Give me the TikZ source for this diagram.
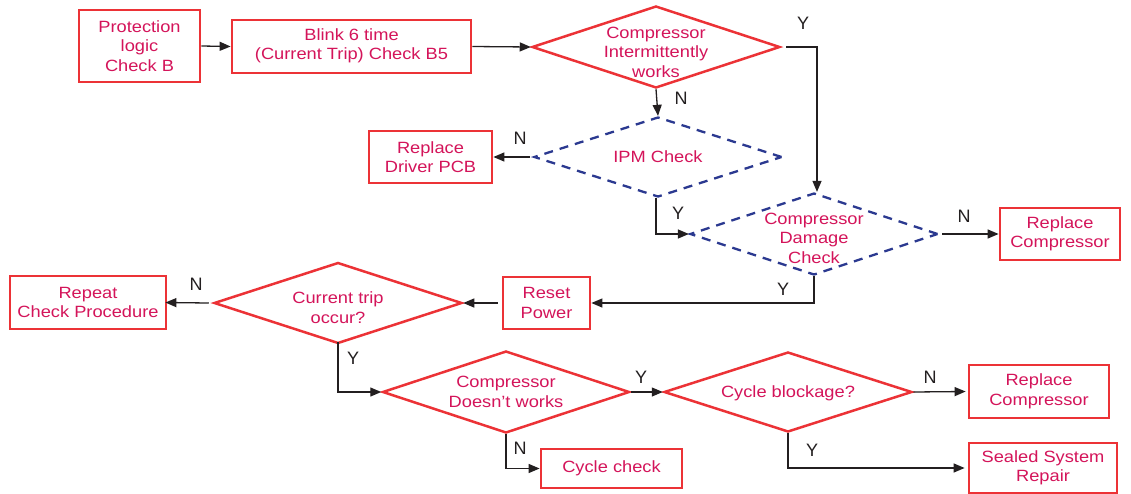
\documentclass[tikz,border=0pt]{standalone}
\usepackage{fontspec}
\setmainfont{Liberation Sans}[FakeStretch=1.12]
\newfontfamily\lblfont{Liberation Sans}
\usetikzlibrary{shapes.geometric,arrows.meta}
\definecolor{boxred}{RGB}{236,50,54}
\definecolor{txtred}{RGB}{212,20,90}
\definecolor{dashblue}{RGB}{43,57,144}
\definecolor{arrowgray}{RGB}{35,31,32}
\tikzset{
  tx/.style={text=txtred,font=\fontsize{16.3}{19.5}\selectfont,align=center,inner sep=0pt},
  boxnode/.style={draw=boxred,line width=2.8pt,rectangle,inner sep=0pt,tx},
  dianode/.style={draw=boxred,line width=2.5pt,diamond,inner sep=0pt},
  dashdia/.style={draw=dashblue,line width=2.3pt,diamond,inner sep=0pt,dash pattern=on 9pt off 7pt},
  conn/.style={draw=arrowgray,line width=1.3pt,-{Triangle[length=11pt,width=9pt]}},
  yn/.style={text=arrowgray,font=\lblfont\fontsize{18}{20}\selectfont,inner sep=0pt}
}
\begin{document}
\begin{tikzpicture}[x=1pt,y=-1pt]
\useasboundingbox[fill=white] (0,0) rectangle (1131,493);
% boxes
\node[boxnode,minimum width=121pt,minimum height=72pt] (pl) at (139.5,46) {Protection\\logic\\Check B};
\node[boxnode,minimum width=239pt,minimum height=53pt] (bl) at (351.5,46.5) {\raisebox{-2pt}{\begin{tabular}{@{}c@{}}Blink 6 time\\[-0.5pt](Current Trip) Check B5\end{tabular}}};
\node[boxnode,minimum width=123pt,minimum height=52pt] (rdp) at (430.5,157) {Replace\\Driver PCB};
\node[boxnode,minimum width=120pt,minimum height=52pt] (rc1) at (1060,234) {Replace\\Compressor};
\node[boxnode,minimum width=87pt,minimum height=52pt] (rp) at (546.5,303) {Reset\\Power};
\node[boxnode,minimum width=156pt,minimum height=53pt] (rep) at (88,302.5) {Repeat\\Check Procedure};
\node[boxnode,minimum width=140pt,minimum height=53pt] (rc2) at (1039,391.5) {Replace\\Compressor};
\node[boxnode,minimum width=148pt,minimum height=50pt] (ss) at (1043,468) {Sealed System\\Repair};
\node[boxnode,minimum width=141pt,minimum height=39pt] (cc) at (611.5,468.5) {Cycle check};
% diamonds
\node[dianode,minimum width=248pt,minimum height=82pt,label={[tx,yshift=-5pt]center:Compressor\\Intermittently\\works}] (d1) at (656,47) {};
\node[dashdia,minimum width=248pt,minimum height=80pt,label={[tx]center:IPM Check}] (ipm) at (658,157) {};
\node[dashdia,minimum width=248pt,minimum height=82pt,label={[tx,yshift=-4pt]center:Compressor\\Damage\\Check}] (dmg) at (814,234) {};
\node[dianode,minimum width=248pt,minimum height=81pt,label={[tx,yshift=-4.5pt]center:Current trip\\occur?}] (ct) at (338,303) {};
\node[dianode,minimum width=247pt,minimum height=82pt,label={[tx]center:Compressor\\Doesn't works}] (cdw) at (506,392) {};
\node[dianode,minimum width=248pt,minimum height=80pt,label={[tx,yshift=-1pt]center:Cycle blockage?}] (cb) at (788,392) {};
% connectors
\draw[conn] (pl.east) -- (bl.west);
\draw[conn] (bl.east) -- (d1.west);
\draw[conn] ([xshift=5pt]d1.east) -| ([xshift=3pt]dmg.north);
\draw[conn] (d1.south) -- (ipm.north);
\draw[conn] ([xshift=-3pt]ipm.west) -- (rdp.east);
\draw[conn] ([xshift=-2pt]ipm.south) |- (dmg.west);
\draw[conn] ([xshift=3pt]dmg.east) -- (rc1.west);
\draw[conn] (dmg.south) |- (rp.east);
\draw[conn] ([xshift=-4pt]rp.west) -- (ct.east);
\draw[conn] ([xshift=-4pt]ct.west) -- ([xshift=-2pt]rep.east);
\draw[conn] ([yshift=3pt]ct.south) |- (cdw.west);
\draw[conn] (cdw.east) -- (cb.west);
\draw[conn] (cb.east) -- ([xshift=-2pt]rc2.west);
\draw[conn] (cb.south) |- ([xshift=-3pt]ss.west);
\draw[conn] (cdw.south) |- (cc.west);
% labels
\node[yn] (l1) at (803,23) {Y};
\node[yn] (l2) at (681,98) {N};
\node[yn] (l3) at (520,138) {N};
\node[yn] (l4) at (678,213) {Y};
\node[yn] (l5) at (964,216) {N};
\node[yn] (l6) at (783,289) {Y};
\node[yn] (l7) at (196,284) {N};
\node[yn] (l8) at (353,358) {Y};
\node[yn] (l9) at (641,377) {Y};
\node[yn] (l10) at (930,377) {N};
\node[yn] (l11) at (812,450) {Y};
\node[yn] (l12) at (520,448) {N};
\end{tikzpicture}
\end{document}
